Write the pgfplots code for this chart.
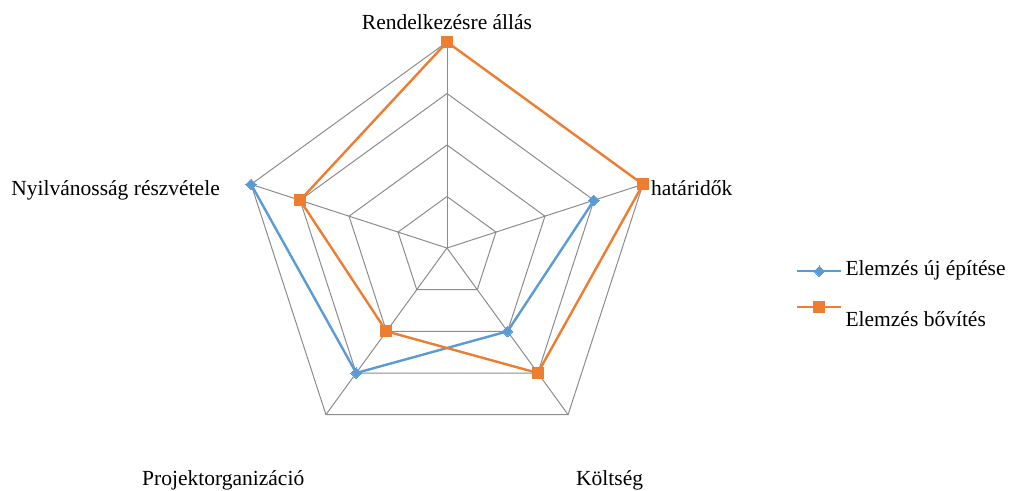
\documentclass[border=0pt]{standalone}
\usepackage{pgfplots}
\pgfplotsset{compat=1.18}
\usepackage{fontspec}
\setmainfont{Liberation Serif}
\definecolor{sblue}{HTML}{5B9BD5}
\definecolor{sorange}{HTML}{ED7D31}
\definecolor{gridgray}{HTML}{8C8C8C}
\begin{document}
\fontsize{21.5}{24}\selectfont
\begin{tikzpicture}
\begin{axis}[
  x=51.5pt, y=51.5pt,
  xmin=-8.680, xmax=11.010, ymin=-4.699, ymax=4.816,
  hide axis, clip=false,
  legend style={at={(axis cs:6.776,-0.291)}, anchor=north west, draw=none, fill=none,
    inner sep=0pt, row sep=20pt, font=\fontsize{21.5}{24}\selectfont,
    nodes={inner xsep=3pt, inner ysep=0pt, text height=12pt, text depth=4pt, anchor=west}},
  legend cell align=left,
  legend image code/.code={\draw[mark repeat=2,mark phase=2,#1,line width=2.4pt] plot coordinates {(0pt,0pt) (22pt,0pt) (44pt,0pt)};},
]
% grid rings
\addplot[gridgray, line width=1pt, data cs=polar, forget plot] coordinates {(90,1) (18,1) (-54,1) (-126,1) (162,1) (90,1)};
\addplot[gridgray, line width=1pt, data cs=polar, forget plot] coordinates {(90,2) (18,2) (-54,2) (-126,2) (162,2) (90,2)};
\addplot[gridgray, line width=1pt, data cs=polar, forget plot] coordinates {(90,3) (18,3) (-54,3) (-126,3) (162,3) (90,3)};
\addplot[gridgray, line width=1pt, data cs=polar, forget plot] coordinates {(90,4) (18,4) (-54,4) (-126,4) (162,4) (90,4)};
% spokes
\addplot[gridgray, line width=1pt, data cs=polar, forget plot] coordinates {(90,0) (90,4)};
\addplot[gridgray, line width=1pt, data cs=polar, forget plot] coordinates {(18,0) (18,4)};
\addplot[gridgray, line width=1pt, data cs=polar, forget plot] coordinates {(-54,0) (-54,4)};
\addplot[gridgray, line width=1pt, data cs=polar, forget plot] coordinates {(-126,0) (-126,4)};
\addplot[gridgray, line width=1pt, data cs=polar, forget plot] coordinates {(162,0) (162,4)};
% series
\addplot[sblue, line width=2.4pt, data cs=polar, mark=square*, mark size=3.7pt, mark options={solid, line width=0pt, rotate=45}]
  coordinates {(18,3) (-54,2) (-126,3) (162,4)};
\addlegendentry{Elemzés új építése}
\addplot[sorange, line width=2.4pt, data cs=polar, mark=square*, mark size=5.5pt, mark options={solid, line width=0pt}]
  coordinates {(90,4) (18,4) (-54,3) (-126,2) (162,3) (90,4)};
\addlegendentry{\smash{\raisebox{-15pt}{Elemzés bővítés}}}
% category labels
\node[anchor=base, inner sep=0pt] at (axis cs:0,4.252) {Rendelkezésre állás};
\node[anchor=base west, inner sep=0pt] at (axis cs:3.961,1.010) {határidők};
\node[anchor=base east, inner sep=0pt] at (axis cs:-4.408,1.029) {Nyilvánosság részvétele};
\node[anchor=base west, inner sep=0pt] at (axis cs:-5.922,-4.602) {Projektorganizáció};
\node[anchor=base west, inner sep=0pt] at (axis cs:2.505,-4.602) {Költség};
\end{axis}
\pgfresetboundingbox
\path (current axis.south west) rectangle (current axis.north east);
\end{tikzpicture}
\end{document}
